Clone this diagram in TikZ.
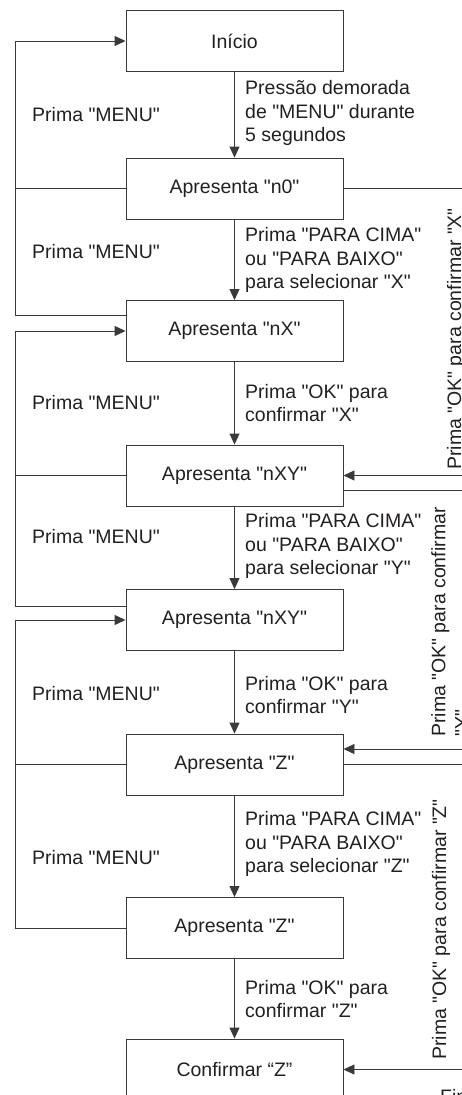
\documentclass[tikz,border=0pt]{standalone}
\usepackage{fontspec}
\setmainfont{Liberation Sans}[Ligatures=TeXOff]
\usetikzlibrary{arrows.meta}
\definecolor{txt}{HTML}{231F20}
\definecolor{lnc}{HTML}{3A3A3A}
\begin{document}
\begin{tikzpicture}[x=1pt,y=-1pt,
  font=\fontsize{19.5}{23.3}\selectfont,
  every node/.style={text=txt},
  box/.style={draw=lnc,line width=0.9pt,rectangle,minimum width=217pt,minimum height=61pt,inner sep=0pt},
  lbl/.style={anchor=west,align=left,inner sep=0pt},
  rlbl/.style={rotate=90,inner sep=0pt,align=left},
  ln/.style={draw=lnc,line width=0.9pt},
  arr/.style={ln,-{Triangle[length=11pt,width=10pt]}}]
\useasboundingbox (0,0) rectangle (462,1095);
\clip (0,0) rectangle (462,1095);
% boxes
\node[box] (inicio) at (234.5,41) {Início};
\node[box] (n0) at (234.5,188.5) {Apresenta "n0"};
\node[box] (nX) at (234.5,331) {Apresenta "nX"};
\node[box] (nXY) at (234.5,475.5) {Apresenta "nXY"};
\node[box] (nXYb) at (234.5,620) {Apresenta "nXY"};
\node[box] (Z) at (234.5,764.5) {Apresenta "Z"};
\node[box] (Zb) at (234.5,928) {Apresenta "Z"};
\node[box] (conf) at (234.5,1069.5) {Confirmar “Z”};
% vertical arrows
\draw[arr] (inicio) -- (n0);
\draw[arr] (n0) -- (nX);
\draw[arr] (nX) -- (nXY);
\draw[arr] (nXY) -- (nXYb);
\draw[arr] (nXYb) -- (Z);
\draw[arr] (Z) -- (Zb);
\draw[arr] (Zb) -- (conf);
% labels on arrows
\node[lbl] (la) at (245,113) {Pressão demorada\\de "MENU" durante\\5 segundos};
\node[lbl] (lb) at (245,260) {Prima "PARA CIMA"\\ou "PARA BAIXO"\\para selecionar "X"};
\node[lbl] (lc) at (245,403) {Prima "OK" para\\confirmar "X"};
\node[lbl] (ld) at (245,546) {Prima "PARA CIMA"\\ou "PARA BAIXO"\\para selecionar "Y"};
\node[lbl] (le) at (245,695) {Prima "OK" para\\confirmar "Y"};
\node[lbl] (lf) at (245,844) {Prima "PARA CIMA"\\ou "PARA BAIXO"\\para selecionar "Z"};
\node[lbl] (lg) at (245,999) {Prima "OK" para\\confirmar "Z"};
% left loops
\draw[arr] ([yshift=16pt]nX.west) -- ++(-110pt,0) |- (inicio.west);
\draw[ln] (n0.west) -- ++(-110pt,0);
\draw[arr] ([yshift=14pt]nXYb.west) -- ++(-110pt,0) |- (nX.west);
\draw[ln] (nXY.west) -- ++(-110pt,0);
\draw[arr] (Zb.west) -- ++(-110pt,0) |- (nXYb.west);
\draw[ln] (Z.west) -- ++(-110pt,0);
% left labels
\node[lbl] (m1) at (32,115) {Prima "MENU"};
\node[lbl] (m2) at (32,252) {Prima "MENU"};
\node[lbl] (m3) at (32,403) {Prima "MENU"};
\node[lbl] (m4) at (32,537) {Prima "MENU"};
\node[lbl] (m5) at (32,694) {Prima "MENU"};
\node[lbl] (m6) at (32,858) {Prima "MENU"};
% right side
\coordinate (r1) at (475,188.5);
\coordinate (r2) at (475,475.5);
\coordinate (r3) at (475,490.5);
\coordinate (r4) at (475,749);
\coordinate (r5) at (475,764.5);
\coordinate (r6) at (475,1069.5);
\draw[ln] (n0.east) -- (r1);
\draw[arr] (r2) -- (nXY.east);
\draw[ln] (r3) -- (r3 -| nXY.east);
\draw[arr] (r4) -- (r4 -| Z.east);
\draw[ln] (Z.east) -- (r5);
\draw[arr] (r6) -- (conf.east);
% right rotated labels
\node[rlbl,anchor=base west] (rx) at (461,470) {Prima "OK" para confirmar "X"};
\node[rlbl,anchor=north west] (ry) at (431,737) {Prima "OK" para confirmar\\"Y"};
\node[rlbl,anchor=base west] (rz) at (446,1060) {Prima "OK" para confirmar "Z"};
\node[anchor=north west,inner sep=0pt] (fim) at (440,1089) {Fim};
\end{tikzpicture}
\end{document}
